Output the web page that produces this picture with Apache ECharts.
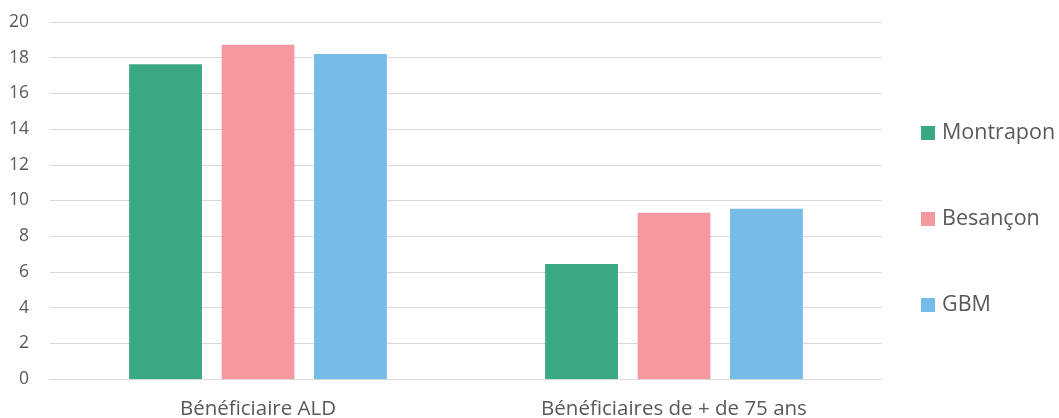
<!DOCTYPE html>
<html>
<head>
<meta charset="utf-8">
<script src="https://cdn.jsdelivr.net/npm/echarts@6/dist/echarts.min.js"></script>
<style>html,body{margin:0;padding:0;background:#fff;}#c{width:1059px;height:418px;}</style>
</head>
<body>
<div id="c"></div>
<script>
const categories = ['Bénéficiaire ALD', 'Bénéficiaires de + de 75 ans'];
const seriesNames = ['Montrapon', 'Besançon', 'GBM'];
const montrapon = [17.63, 6.44];
const besancon = [18.73, 9.32];
const gbm = [18.21, 9.54];
const yTicks = { min: 0, max: 20, interval: 2 };

const colors = ['#3aa981', '#f5999e', '#75bde8'];
const chart = echarts.init(document.getElementById('c'));
const font = '"Open Sans", "Noto Sans", sans-serif';
chart.setOption({
  animation: false,
  textStyle: { fontFamily: font },
  grid: { left: 50, right: 177, top: 22, bottom: 39, containLabel: false, outerBoundsMode: 'none' },
  legend: {
    orient: 'vertical',
    left: 916,
    top: 117,
    itemWidth: 14,
    itemHeight: 14,
    itemGap: 64,
    icon: 'rect',
    textStyle: { fontSize: 21.5, lineHeight: 22, color: '#595959', fontFamily: font, padding: [0,0,0,2] },
    data: seriesNames
  },
  xAxis: {
    type: 'category',
    data: categories,
    axisLine: { lineStyle: { color: '#d9d9d9', width: 1 } },
    axisTick: { show: false },
    axisLabel: { fontSize: 20.5, color: '#595959', margin: 20, fontFamily: font }
  },
  yAxis: {
    type: 'value',
    min: yTicks.min, max: yTicks.max, interval: yTicks.interval,
    axisLine: { show: false },
    axisTick: { show: false },
    splitLine: { lineStyle: { color: '#d9d9d9', width: 1 } },
    axisLabel: { fontSize: 17.5, color: '#595959', margin: 21, fontFamily: font }
  },
  series: [
    { name: seriesNames[0], type: 'bar', data: montrapon, itemStyle: { color: colors[0] }, barWidth: '17.5%', barGap: '27%' },
    { name: seriesNames[1], type: 'bar', data: besancon, itemStyle: { color: colors[1] }, barWidth: '17.5%', barGap: '27%' },
    { name: seriesNames[2], type: 'bar', data: gbm, itemStyle: { color: colors[2] }, barWidth: '17.5%', barGap: '27%' }
  ]
});
</script>
</body>
</html>
